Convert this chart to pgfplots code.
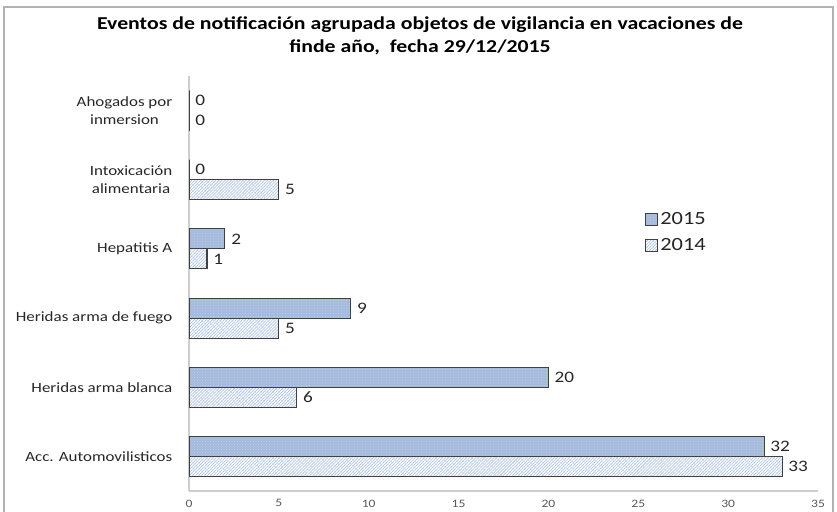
\documentclass[border=0pt]{standalone}
\usepackage{fontspec}
\setmainfont{Carlito}[FakeStretch=1.2]
\usepackage{pgfplots}
\pgfplotsset{compat=1.18}
\usetikzlibrary{patterns,patterns.meta}

\definecolor{fill15}{RGB}{164,187,222}
\definecolor{hatch14}{RGB}{160,186,224}
\definecolor{edge}{RGB}{64,64,64}
\definecolor{axgray}{RGB}{205,205,205}
\definecolor{tickgray}{RGB}{89,89,89}

\begin{document}
\begin{tikzpicture}
\useasboundingbox (0,0) rectangle (627.75pt,383.25pt);
\draw[gray!60, line width=0.8pt] (3pt,-5pt) -- (3pt,378pt) -- (624.75pt,378pt) -- (624.75pt,-5pt);

\node[font=\fontsize{13.6}{17.25}\selectfont\bfseries, align=center] at (315pt,356pt)
  {Eventos de notificación agrupada objetos de vigilancia en vacaciones de\\finde año,\ \ fecha 29/12/2015};

\begin{axis}[
    at={(141.75pt,15pt)}, anchor=south west,
    scale only axis,
    width=471.75pt, height=311.25pt,
    xbar, bar width=15pt,
    xmin=0, xmax=35,
    ymin=-0.5, ymax=5.5,
    xtick={0,5,...,35},
    ytick={0,1,2,3,4,5},
    yticklabels={Acc. Automovilisticos, Heridas arma blanca, Heridas arma de fuego, Hepatitis A, Intoxicación\\alimentaria, Ahogados por\\inmersion},
    yticklabel style={align=center, font=\fontsize{10.6}{14}\selectfont, text=black!85, xshift=-9pt},
    xticklabel style={font=\fontsize{8.5}{9}\selectfont, text=tickgray, yshift=-3pt},
    /pgf/number format/assume math mode=true,
    axis lines*=left,
    axis line style={axgray, line width=0.8pt},
    major tick length=0pt,
    nodes near coords,
    every node near coord/.append style={font=\fontsize{12}{14}\selectfont, text=black!85, xshift=1pt},
    legend style={at={(0.718,0.686)}, anchor=north west, draw=none, fill=none,
        font=\fontsize{14}{17}\selectfont, text=black!85, row sep=5.5pt},
    legend image code/.code={\draw[#1, line width=0.6pt] (0pt,-4.5pt) rectangle (9pt,4.5pt);},
    legend cell align=left,
]
\addplot[bar shift=7.5pt, draw=edge, line width=0.8pt, fill=fill15,
    postaction={pattern={Dots[radius=0.25pt, distance=2pt]}, pattern color=white!75!fill15}]
  coordinates {(32,0) (20,1) (9,2) (2,3) (0,4) (0,5)};
\addlegendentry{2015}
\addplot[bar shift=-7.5pt, draw=edge, line width=0.8pt, fill=white,
    postaction={pattern={Lines[angle=45, distance=1.6pt, line width=0.4pt]}, pattern color=hatch14},
    postaction={pattern={Lines[angle=-45, distance=3.2pt, line width=0.3pt]}, pattern color=hatch14!55}]
  coordinates {(33,0) (6,1) (5,2) (1,3) (5,4) (0,5)};
\addlegendentry{2014}
\end{axis}
\end{tikzpicture}
\end{document}
